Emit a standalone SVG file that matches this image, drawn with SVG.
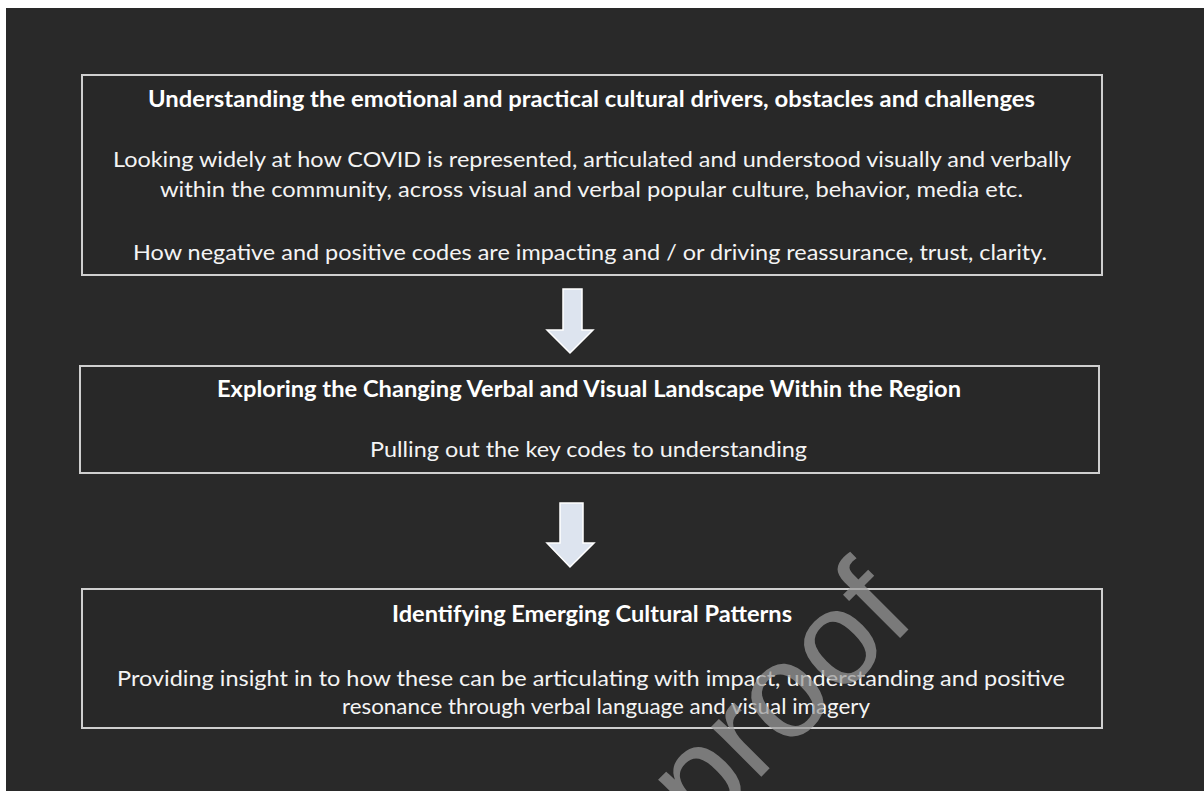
<svg xmlns="http://www.w3.org/2000/svg" width="1204" height="791" viewBox="0 0 1204 791">
  <style>
    .box { fill: #282828; stroke: #cfcfcf; stroke-width: 2; }
    .title { font-family: Lato, "Open Sans", sans-serif; font-weight: bold; font-size: 22px; fill: #ffffff; text-anchor: middle; }
    .body { font-family: Lato, "Open Sans", sans-serif; font-size: 21.5px; fill: #f4f4f4; text-anchor: middle; }
    .arrow { fill: #dde4ef; stroke: #ffffff; stroke-width: 1.5; stroke-linejoin: miter; }
    .mark { font-family: "Liberation Sans", Arial, sans-serif; font-size: 134px; fill: #9a9a9a; fill-opacity: 0.72; }
  </style>

  <!-- page -->
  <rect x="0" y="0" width="1204" height="791" fill="#ffffff"/>
  <rect x="6" y="8" width="1198" height="783" fill="#292929"/>

  <!-- step 1 -->
  <g id="step-understanding">
    <rect class="box" x="82" y="75" width="1020" height="200"/>
    <text class="title" x="591.5" y="107" textLength="887" lengthAdjust="spacingAndGlyphs">Understanding the emotional and practical cultural drivers, obstacles and challenges</text>
    <text class="body" x="592" y="167" textLength="958" lengthAdjust="spacingAndGlyphs">Looking widely at how COVID is represented, articulated and understood visually and verbally</text>
    <text class="body" x="591.5" y="197" textLength="863" lengthAdjust="spacingAndGlyphs">within the community, across visual and verbal popular culture, behavior, media etc.</text>
    <text class="body" x="590" y="260" textLength="914" lengthAdjust="spacingAndGlyphs">How negative and positive codes are impacting and / or driving reassurance, trust, clarity.</text>
  </g>

  <!-- step 2 -->
  <g id="step-exploring">
    <rect class="box" x="80" y="366" width="1019" height="107"/>
    <text class="title" x="589" y="397" textLength="744" lengthAdjust="spacingAndGlyphs">Exploring the Changing Verbal and Visual Landscape Within the Region</text>
    <text class="body" x="588.5" y="457" textLength="437" lengthAdjust="spacingAndGlyphs">Pulling out the key codes to understanding</text>
  </g>

  <!-- step 3 -->
  <g id="step-identifying">
    <rect class="box" x="82" y="589" width="1020" height="139"/>
    <text class="title" x="592" y="622" textLength="400" lengthAdjust="spacingAndGlyphs">Identifying Emerging Cultural Patterns</text>
    <text class="body" x="591" y="686" textLength="948" lengthAdjust="spacingAndGlyphs">Providing insight in to how these can be articulating with impact, understanding and positive</text>
    <text class="body" x="606" y="714" textLength="528" lengthAdjust="spacingAndGlyphs">resonance through verbal language and visual imagery</text>
  </g>

  <!-- block arrows between steps -->
  <g id="connectors">
    <path class="arrow" d="M563,289 H582 V330 H593 L570,353 L547,330 H563 Z"/>
    <path class="arrow" d="M560,503 H583 V543 H594 L570,567 L547,543 H560 Z"/>
  </g>

  <!-- diagonal stamp -->
  <text class="mark" transform="translate(702,836) rotate(-45)">proof</text>
</svg>
